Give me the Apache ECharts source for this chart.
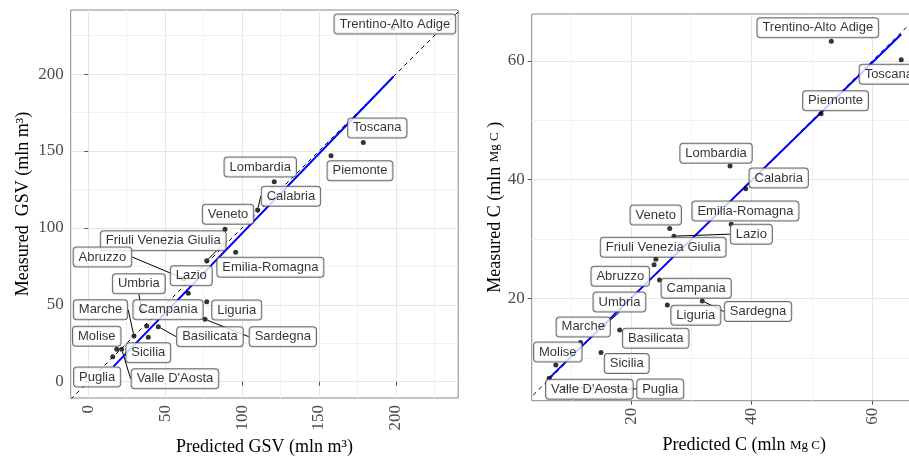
<!DOCTYPE html>
<html><head><meta charset="utf-8">
<script src="https://cdn.jsdelivr.net/npm/echarts@6/dist/echarts.min.js"></script>
<style>html,body{margin:0;padding:0;background:#fff}#c{width:909px;height:460px}</style>
</head><body><div id="c"></div>
<script>
// ---- data ----
const regions = ["Trentino-Alto Adige","Toscana","Piemonte","Lombardia","Calabria","Veneto","Emilia-Romagna","Friuli Venezia Giulia","Lazio","Abruzzo","Umbria","Campania","Liguria","Sardegna","Basilicata","Marche","Molise","Sicilia","Valle D'Aosta","Puglia"];
const gsvPredicted = [198, 178.8, 157.8, 120.9, 110.1, 88.9, 95.8, 77.0, 65.0, 62, 35, 38.0, 77.0, 75.9, 45.5, 29.7, 18.5, 39.0, 21.7, 15.9];
const gsvMeasured  = [230, 155.6, 146.9, 130.0, 111.6, 99.1, 84.2, 78.7, 57.5, 67, 46, 36.2, 52.0, 40.6, 35.8, 29.7, 21.1, 28.9, 21.1, 16.3];
const cPredicted   = [53.2, 64.8, 51.5, 36.4, 39.0, 26.4, 36.6, 24.1, 27.1, 23.8, 15.5, 24.7, 26.0, 31.8, 18.1, 11.6, 7.5, 15.0, 6.4, 9.0];
const cMeasured    = [63.3, 60.2, 51.1, 42.3, 38.5, 31.8, 32.5, 26.6, 30.5, 25.7, 15.5, 23.1, 18.9, 19.6, 14.7, 12.6, 8.8, 10.9, 6.6, 5.0];
// fitted regression lines (end points)
const gsvFitX = [16.3, 198.3];
const gsvFitY = [9.8, 198.3];
const cFitX = [6.4, 64.8];
const cFitY = [6.6, 64.5];
// tick labels
const gsvTicks = [0, 50, 100, 150, 200];
const gsvMinorTicks = [25, 75, 125, 175, 225];
const cTicks = [20, 40, 60];
const cMinorTicks = [10, 30, 50, 70];

// ---- layout (label placement, like ggrepel) ----
const gsvLabelOffset = [[2,-4],[14,-14.5],[29,15],[-14,-14.7],[33.3,-13.8],[3,-15],[34.7,15],[-43.5,-20],[3,-17.5],[-81.2,-21.6],[-3.3,-27.2],[21.3,-16.3],[30,8.3],[77.8,17.4],[51.7,10],[-33.5,-26.3],[-20,-13],[0,15.4],[53.3,29.5],[-15.6,20.4]];
const cLabelOffset = [[-13.5,-13.5],[-12.4,14.4],[14.5,-13],[-14,-12.9],[33,-10.6],[-14,-13.5],[14.2,-13.3],[7.3,-12],[77.4,-2],[-33.8,11.6],[15.4,-23.3],[36.7,8.2],[28.5,10.3],[55.7,10.6],[36,8.3],[2.7,-15.6],[2,-13],[25.7,11],[40.2,11],[95.4,1.3]];
const gsvSegments = ["Calabria","Friuli Venezia Giulia","Abruzzo","Umbria","Marche","Sardegna","Basilicata","Valle D'Aosta"];
const cSegments = ["Lazio","Umbria","Sardegna","Puglia"];

const gsvRange = [-11.44, 240.5, -10.6, 241.7];
const cRange = [3.5, 74.0, 2.8, 67.9];

const SERIF = "'Liberation Serif','Times New Roman',serif";
const SANS = "'Liberation Sans',Arial,sans-serif";

function mainAxis(gridIndex, min, max, ticks, isX, name, gap, rich) {
  return {
    type: 'value', gridIndex, min, max,
    position: isX ? 'bottom' : 'left',
    axisLine: { show: false },
    axisTick: { show: true, length: 4, lineStyle: { color: '#555', width: 1 }, customValues: ticks },
    axisLabel: { customValues: ticks, color: '#4d4d4d', fontFamily: SERIF, fontSize: 17, margin: 7, rotate: isX ? 90 : 0 },
    splitLine: { show: true, lineStyle: { color: '#e6e6e6', width: 1 } },
    name, nameLocation: 'middle', nameGap: gap, nameRotate: isX ? 0 : 90,
    nameTextStyle: { color: '#000', fontFamily: SERIF, fontSize: 18, rich: rich || undefined }
  };
}
function minorAxis(gridIndex, min, max, ticks, isX) {
  return {
    type: 'value', gridIndex, min, max,
    position: isX ? 'bottom' : 'left',
    axisLine: { show: false },
    axisTick: { show: false, customValues: ticks },
    axisLabel: { show: false, customValues: ticks },
    splitLine: { show: true, lineStyle: { color: '#f2f2f2', width: 1 } }
  };
}
const cRich = {
  t: { fontFamily: SERIF, fontSize: 18, color: '#000' },
  s: { fontFamily: SERIF, fontSize: 13, color: '#000' }
};

function scatterSeries(axisIdx, xs, ys, offsets, segs) {
  return {
    type: 'scatter', xAxisIndex: axisIdx, yAxisIndex: axisIdx, z: 5,
    symbol: 'circle', symbolSize: 5, itemStyle: { color: '#000' },
    data: regions.map((n, i) => ({ name: n, value: [xs[i], ys[i]], labelLine: { show: segs.includes(n) } })),
    label: {
      show: true, position: 'inside', formatter: '{b}',
      color: '#000', fontFamily: SANS, fontSize: 13, lineHeight: 14,
      backgroundColor: '#fff', borderColor: '#444', borderWidth: 1, borderRadius: 3, padding: [3, 5, 2, 5]
    },
    labelLayout: p => ({ dx: offsets[p.dataIndex][0], dy: offsets[p.dataIndex][1] }),
    labelLine: { show: false, lineStyle: { color: '#000', width: 1 } },
    emphasis: { disabled: true }
  };
}
function fitSeries(axisIdx, fx, fy) {
  return {
    type: 'line', xAxisIndex: axisIdx, yAxisIndex: axisIdx, z: 3, symbol: 'none',
    data: fx.map((x, i) => [x, fy[i]]),
    lineStyle: { color: '#0000ff', width: 2 }
  };
}
function identitySeries(axisIdx, r) {
  const lo = Math.min(r[0], r[2]), hi = Math.max(r[1], r[3]);
  return {
    type: 'line', xAxisIndex: axisIdx, yAxisIndex: axisIdx, z: 2, symbol: 'none', clip: true,
    data: [[lo, lo], [hi, hi]],
    lineStyle: { color: '#000', width: 1, type: [4, 4] }
  };
}

const chart = echarts.init(document.getElementById('c'), null, { renderer: 'canvas' });
chart.setOption({
  animation: false,
  backgroundColor: '#fff',
  grid: [
    { left: 70.7, top: 10, width: 387.5, height: 388, outerBoundsMode: 'none', containLabel: false, show: true, borderColor: '#888', borderWidth: 1, backgroundColor: '#fff' },
    { left: 531.7, top: 14, width: 425, height: 386.7, outerBoundsMode: 'none', containLabel: false, show: true, borderColor: '#888', borderWidth: 1, backgroundColor: '#fff' }
  ],
  xAxis: [
    mainAxis(0, gsvRange[0], gsvRange[1], gsvTicks, true, 'Predicted GSV (mln m³)', 37),
    minorAxis(0, gsvRange[0], gsvRange[1], gsvMinorTicks, true),
    mainAxis(1, cRange[0], cRange[1], cTicks, true, '{t|Predicted C (mln }{s|Mg C}{t|)}', 36, cRich),
    minorAxis(1, cRange[0], cRange[1], cMinorTicks, true)
  ],
  yAxis: [
    mainAxis(0, gsvRange[2], gsvRange[3], gsvTicks, false, 'Measured  GSV (mln m³)', 38),
    minorAxis(0, gsvRange[2], gsvRange[3], gsvMinorTicks, false),
    mainAxis(1, cRange[2], cRange[3], cTicks, false, '{t|Measured C (mln }{s|Mg C}{t| )}', 26, cRich),
    minorAxis(1, cRange[2], cRange[3], cMinorTicks, false)
  ],
  series: [
    identitySeries(0, gsvRange),
    fitSeries(0, gsvFitX, gsvFitY),
    scatterSeries(0, gsvPredicted, gsvMeasured, gsvLabelOffset, gsvSegments),
    identitySeries(2, cRange),
    fitSeries(2, cFitX, cFitY),
    scatterSeries(2, cPredicted, cMeasured, cLabelOffset, cSegments)
  ]
});
</script></body></html>
